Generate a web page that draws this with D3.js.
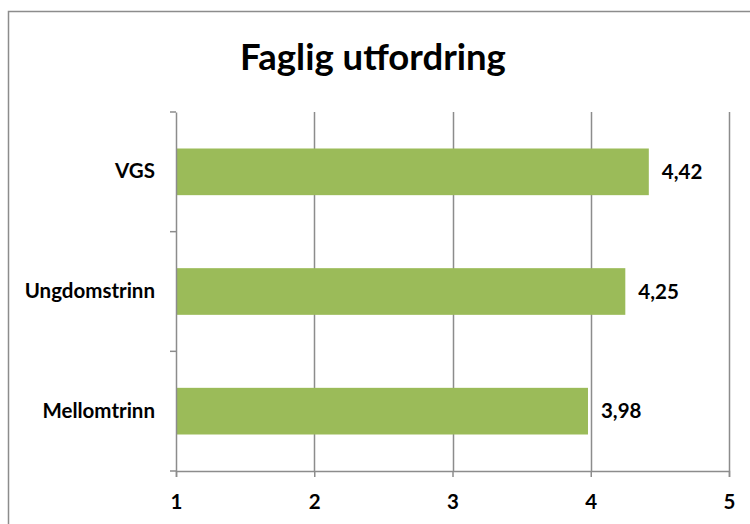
<!DOCTYPE html>
<html>
<head>
<meta charset="utf-8">
<script src="https://cdn.jsdelivr.net/npm/d3@7"></script>
<style>
	body { margin: 0; background: #fff; }
	svg text { font-family: Lato, "Open Sans", sans-serif; font-weight: bold; fill: #000; }
</style>
</head>
<body>
<svg id="viz"></svg>
<script>

	// the data
	var categories = ["VGS", "Ungdomstrinn", "Mellomtrinn"];
	var values = [4.42, 4.25, 3.98];
	var xTicks = [1, 2, 3, 4, 5];
	var title = "Faglig utfordring";



	// set up the svg
	var w = 750;
	var h = 524;
	var viz = d3.select("#viz").attr("width", w).attr("height", h);

	var plotLeft = 176, plotRight = 729, plotTop = 112, plotBottom = 471;
	var grey = "#8c8c8c";

	// outer chart border
	viz.append("rect")
		.attr("x", 8.5).attr("y", 11.5)
		.attr("width", 760).attr("height", 540)
		.attr("fill", "none")
		.attr("stroke", grey)
		.attr("stroke-width", 1.5);

	// title
	viz.append("text")
		.attr("x", 373)
		.attr("y", 70)
		.attr("text-anchor", "middle")
		.style("font-size", "36.5px")
		.text(title);



	// scales
	var x = d3.scaleLinear().domain([1, 5]).range([plotLeft, plotRight]);
	var y = d3.scaleBand().domain(categories).range([plotTop, plotBottom]);
	var barH = y.bandwidth() * 0.39;



	// vertical gridlines
	viz.selectAll("line.grid")
		.data(xTicks.slice(1))
		.enter()
		.append("line")
		.attr("class", "grid")
		.attr("x1", function(d) { return Math.round(x(d)) + 0.5; })
		.attr("x2", function(d) { return Math.round(x(d)) + 0.5; })
		.attr("y1", plotTop)
		.attr("y2", plotBottom)
		.attr("stroke", grey)
		.attr("stroke-width", 1.5);



	// draw the bars
	viz.selectAll("rect.bar")
		.data(values)
		.enter()
		.append("rect")
		.attr("class", "bar")
		.attr("x", x(1))
		.attr("y", function(d, i) { return y(categories[i]) + (y.bandwidth() - barH) / 2; })
		.attr("width", function(d) { return x(d) - x(1); })
		.attr("height", barH)
		.attr("fill", "#9bbb59");



	// x axis
	var xAxis = viz.append("g")
		.attr("transform", "translate(0," + plotBottom + ")")
		.call(d3.axisBottom(x).tickValues(xTicks).tickSize(6).tickPadding(25).tickFormat(d3.format("d")));

	// y axis, ticks between the categories
	var yAxis = viz.append("g")
		.attr("transform", "translate(" + plotLeft + ",0)")
		.call(d3.axisLeft(y).tickSize(0).tickPadding(21));

	viz.selectAll("line.ytick")
		.data(d3.range(categories.length + 1))
		.enter()
		.append("line")
		.attr("class", "ytick")
		.attr("x1", plotLeft - 6)
		.attr("x2", plotLeft)
		.attr("y1", function(d) { return plotTop + d * y.step(); })
		.attr("y2", function(d) { return plotTop + d * y.step(); })
		.attr("stroke", grey)
		.attr("stroke-width", 1.5);

	[xAxis, yAxis].forEach(function(a) {
		a.select(".domain").attr("stroke", grey).attr("stroke-width", 1.5);
		a.selectAll(".tick line").attr("stroke", grey).attr("stroke-width", 1.5);
		a.selectAll("text")
			.style("font-family", "Lato, 'Open Sans', sans-serif")
			.style("font-weight", "bold")
			.style("font-size", "20.5px")
			.attr("fill", "#000");
	});
	xAxis.selectAll("text").attr("dy", "0.35em");



	// value labels
	var comma = d3.formatLocale({decimal: ",", thousands: " ", grouping: [3], currency: ["", " kr"]}).format(".2f");
	viz.selectAll("text.value")
		.data(values)
		.enter()
		.append("text")
		.attr("class", "value")
		.attr("x", function(d) { return x(d) + 13; })
		.attr("y", function(d, i) { return y(categories[i]) + y.bandwidth() / 2; })
		.attr("dy", "0.35em")
		.style("font-size", "20.5px")
		.text(function(d) { return comma(d); });

</script>
</body>
</html>
